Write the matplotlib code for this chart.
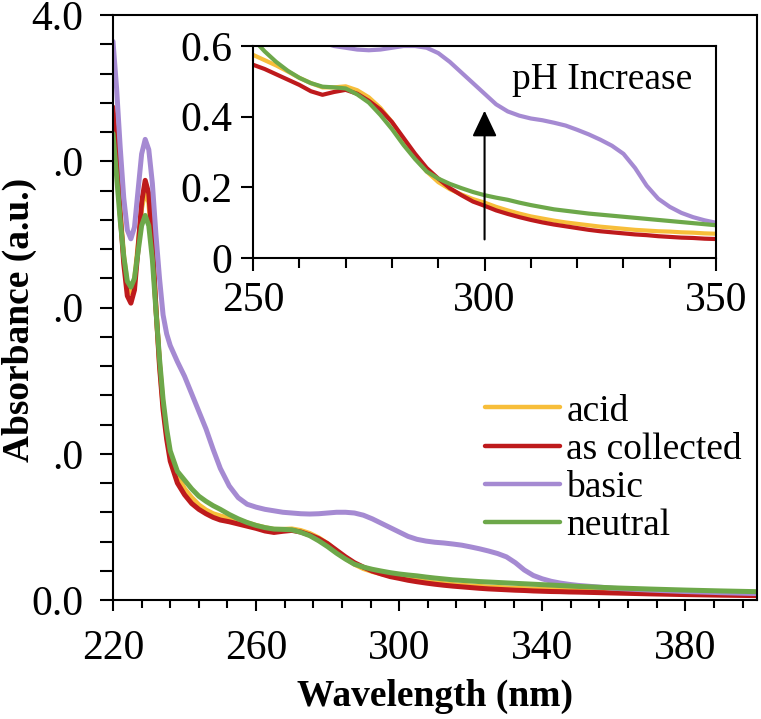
import matplotlib.pyplot as plt
from matplotlib.ticker import FixedLocator, FixedFormatter

# ------------------ DADOS ------------------
wavelength = [220, 221, 222, 223, 224, 225, 226, 227, 228, 229, 230, 231, 232, 233, 234,
              235, 236, 238, 240, 242, 244, 246, 248,
              250, 252.5, 255, 257.5, 260, 262.5, 265, 267.5, 270, 272.5,
              275, 277.5, 280, 282.5, 285, 287.5, 290, 292.5, 295, 297.5,
              300, 302.5, 305, 307.5, 310, 312.5, 315, 317.5, 320, 322.5,
              325, 327.5, 330, 332.5, 335, 337.5, 340, 342.5, 345, 347.5,
              350, 360, 370, 380, 390, 400]

acid = [3.30, 3.00, 2.65, 2.35, 2.15, 2.10, 2.18, 2.42, 2.68, 2.80, 2.72, 2.42, 2.00, 1.62, 1.33,
        1.13, 0.99, 0.85, 0.76, 0.70, 0.65, 0.615, 0.59,
        0.575, 0.56, 0.545, 0.528, 0.51, 0.495, 0.483, 0.483, 0.486, 0.475,
        0.455, 0.425, 0.385, 0.335, 0.285, 0.245, 0.215, 0.195, 0.18, 0.167,
        0.157, 0.145, 0.135, 0.126, 0.118, 0.112, 0.106, 0.101, 0.097, 0.093,
        0.089, 0.086, 0.083, 0.080, 0.078, 0.076, 0.075, 0.073, 0.072, 0.070,
        0.069, 0.062, 0.056, 0.050, 0.045, 0.041]

as_collected = [3.37, 3.05, 2.65, 2.30, 2.08, 2.03, 2.12, 2.40, 2.72, 2.87, 2.78, 2.45, 2.00, 1.60, 1.30,
                1.10, 0.95, 0.80, 0.72, 0.66, 0.62, 0.59, 0.565,
                0.547, 0.535, 0.52, 0.505, 0.49, 0.472, 0.462, 0.47, 0.476, 0.465,
                0.445, 0.42, 0.385, 0.34, 0.295, 0.255, 0.225, 0.198, 0.178, 0.16,
                0.148, 0.135, 0.125, 0.116, 0.108, 0.101, 0.095, 0.090, 0.085, 0.080,
                0.076, 0.073, 0.070, 0.067, 0.065, 0.062, 0.060, 0.058, 0.057, 0.055,
                0.054, 0.048, 0.042, 0.037, 0.033, 0.030]

basic = [3.82, 3.50, 3.10, 2.75, 2.53, 2.47, 2.55, 2.80, 3.05, 3.15, 3.08, 2.85, 2.50, 2.20, 1.95,
         1.82, 1.74, 1.63, 1.53, 1.41, 1.29, 1.17, 1.03,
         0.90, 0.78, 0.70, 0.655, 0.635, 0.62, 0.61, 0.60, 0.595, 0.59,
         0.588, 0.59, 0.595, 0.60, 0.60, 0.595, 0.58, 0.555, 0.525, 0.495,
         0.465, 0.435, 0.415, 0.403, 0.395, 0.39, 0.383, 0.375, 0.363, 0.35,
         0.335, 0.318, 0.295, 0.255, 0.205, 0.168, 0.145, 0.128, 0.116, 0.107,
         0.10, 0.08, 0.068, 0.058, 0.05, 0.044]

neutral = [3.19, 2.90, 2.60, 2.35, 2.18, 2.14, 2.20, 2.38, 2.56, 2.63, 2.56, 2.33, 1.98, 1.65, 1.37,
           1.17, 1.02, 0.88, 0.82, 0.76, 0.71, 0.675, 0.645,
           0.62, 0.585, 0.555, 0.53, 0.51, 0.495, 0.485, 0.483, 0.48, 0.463,
           0.44, 0.405, 0.365, 0.32, 0.28, 0.245, 0.225, 0.21, 0.198, 0.187,
           0.178, 0.171, 0.165, 0.157, 0.15, 0.144, 0.138, 0.134, 0.13, 0.126,
           0.123, 0.12, 0.117, 0.114, 0.111, 0.108, 0.105, 0.102, 0.099, 0.096,
           0.093, 0.083, 0.075, 0.068, 0.062, 0.057]

series = [("acid", acid, "#F7BE3A"),
          ("as collected", as_collected, "#BE1A1C"),
          ("basic", basic, "#A58AD2"),
          ("neutral", neutral, "#6DA84A")]

main_xticks = [220, 260, 300, 340, 380]
main_xminor = list(range(220, 400, 8))
main_yticks = [0.0, 1.0, 2.0, 3.0, 4.0]
main_ylabels = ["0.0", ".0", ".0", ".0", "4.0"]
main_yminor = [i / 5 for i in range(21)]
inset_xticks = [250, 300, 350]
inset_xminor = list(range(250, 351, 10))
inset_yticks = [0, 0.2, 0.4, 0.6]
inset_ylabels = ["0", "0.2", "0.4", "0.6"]

# ------------------ GRAFICO ------------------
plt.rcParams['font.family'] = ['Liberation Serif', 'DejaVu Serif']
plt.rcParams['axes.linewidth'] = 1.5

fig = plt.figure(figsize=(7.61, 7.19), dpi=100)
ax = fig.add_axes([0.1485, 0.1655, 0.846, 0.8135])

for nome, valores, cor in series:
    ax.plot(wavelength, valores, color=cor, lw=3.6, label=nome, solid_capstyle='round')

ax.set_xlim(220, 400)
ax.set_ylim(0, 4.0)
ax.xaxis.set_major_locator(FixedLocator(main_xticks))
ax.xaxis.set_minor_locator(FixedLocator(main_xminor))
ax.yaxis.set_major_locator(FixedLocator(main_yticks))
ax.yaxis.set_major_formatter(FixedFormatter(main_ylabels))
ax.yaxis.set_minor_locator(FixedLocator(main_yminor))
ax.tick_params(axis='both', which='both', direction='out', width=1.5, labelsize=30)
ax.tick_params(axis='x', which='major', length=8, pad=13)
ax.tick_params(axis='x', which='minor', length=6)
ax.tick_params(axis='y', which='major', length=9.5, pad=12)
ax.tick_params(axis='y', which='minor', length=9.5)
ax.set_xlabel("Wavelength (nm)", fontsize=27, fontweight='bold', labelpad=8)
ax.set_ylabel("Absorbance (a.u.)", fontsize=27, fontweight='bold')
ax.yaxis.set_label_coords(-0.118, 0.478)

leg = ax.legend(loc='upper left', bbox_to_anchor=(0.578, 0.352), frameon=False, fontsize=27,
                handlelength=2.0, handletextpad=0.16, labelspacing=0.1, borderpad=0,
                borderaxespad=0)
for linha in leg.get_lines():
    linha.set_linewidth(3.2)

# inset
axi = fig.add_axes([0.3325, 0.641, 0.6085, 0.295])
for nome, valores, cor in series:
    axi.plot(wavelength, valores, color=cor, lw=3.0)
axi.set_xlim(250, 350)
axi.set_ylim(0, 0.6)
axi.xaxis.set_major_locator(FixedLocator(inset_xticks))
axi.xaxis.set_minor_locator(FixedLocator(inset_xminor))
axi.yaxis.set_major_locator(FixedLocator(inset_yticks))
axi.yaxis.set_major_formatter(FixedFormatter(inset_ylabels))
axi.tick_params(axis='both', which='both', direction='out', width=1.5, labelsize=30)
axi.tick_params(axis='x', which='major', length=9, pad=8)
axi.tick_params(axis='x', which='minor', length=7)
axi.tick_params(axis='y', which='major', length=9, pad=6)

axi.annotate("", xy=(300, 0.425), xytext=(300, 0.045),
             arrowprops=dict(arrowstyle='-|>,head_width=0.38,head_length=0.8',
                             mutation_scale=20, color='black', lw=1.5))
axi.text(325.4, 0.504, "pH Increase", fontsize=27, ha='center', va='center')

fig.savefig("out.png", dpi=100)
